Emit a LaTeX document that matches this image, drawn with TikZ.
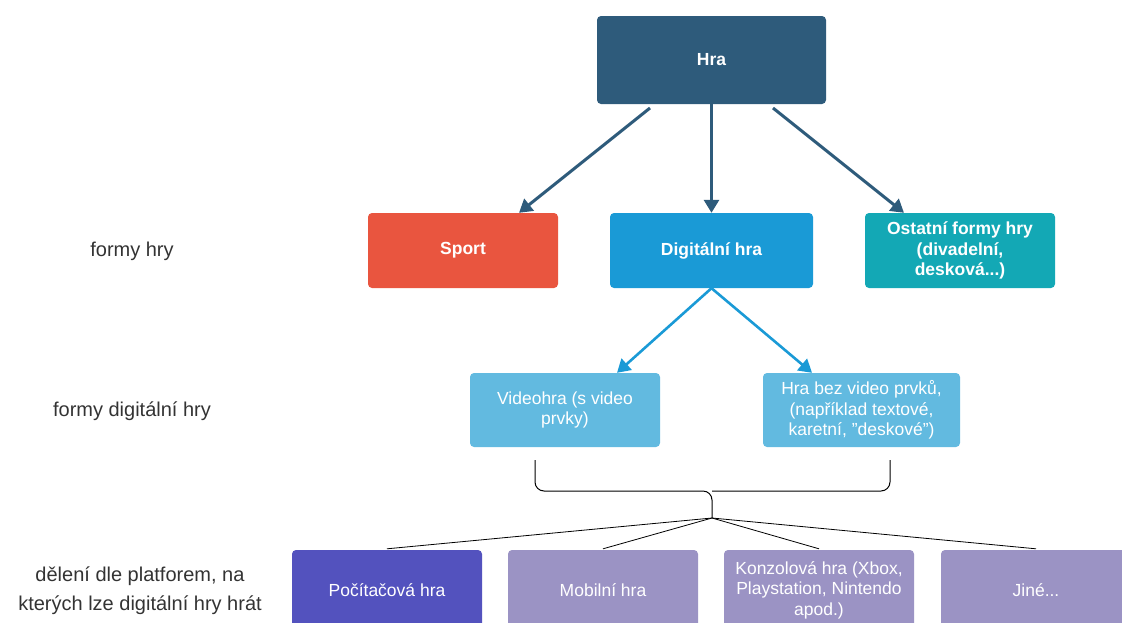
\documentclass[tikz,border=0pt]{standalone}
\usepackage{fontspec}
\setmainfont{Liberation Sans}
\usepackage{tikz}
\usetikzlibrary{arrows.meta,positioning,calc}
\definecolor{hraC}{HTML}{2E5B7B}
\definecolor{sportC}{HTML}{E9553F}
\definecolor{digiC}{HTML}{1A9AD6}
\definecolor{ostC}{HTML}{13A8B5}
\definecolor{videoC}{HTML}{62BAE0}
\definecolor{pcC}{HTML}{5352BE}
\definecolor{platC}{HTML}{9B93C4}
\tikzset{
  box/.style={rounded corners=4pt,text=white,align=center,inner sep=2pt,
    font=\fontsize{17.5}{20.5}\selectfont},
  top/.style={box,font=\fontsize{17.5}{20.5}\selectfont\bfseries},
  lab/.style={font=\fontsize{20}{29}\selectfont,text=black!80,align=center},
  arr/.style={line width=3pt,-{Triangle[length=13pt,width=15pt]}},
}
\begin{document}
\begin{tikzpicture}[x=1pt,y=-1pt]
  \useasboundingbox (0,0) rectangle (1122,622);
  \clip (0,0) rectangle (1122,622);
  % first two levels
  \node[top,fill=hraC,minimum width=229pt,minimum height=88pt] (hra) at (711.5,60){Hra};
  \node[top,fill=sportC,minimum width=190pt,minimum height=75pt] (sport) at (463,250.5){Sport};
  \node[top,fill=digiC,minimum width=203pt,minimum height=75pt] (digi) at (711.5,250.5){Digitální hra};
  \node[top,fill=ostC,minimum width=190pt,minimum height=75pt] (ost) at (960,250.5){Ostatní formy hry\\(divadelní,\\desková...)};
  \draw[arr,hraC] (650,108) -- (sport.north -| 519,0);
  \draw[arr,hraC] (hra.south) -- (digi.north);
  \draw[arr,hraC] (773,108) -- (ost.north -| 904,0);
  % digitalni hra
  \node[box,fill=videoC,minimum width=190pt,minimum height=74pt] (video) at (565,410){Videohra (s video\\prvky)};
  \node[box,fill=videoC,minimum width=197pt,minimum height=74pt] (bez) at (861.5,410){Hra bez video prvků,\\(například textové,\\karetní, "deskové")};
  \draw[arr,digiC,line width=2.6pt] (digi.south) -- (video.north -| 617,0);
  \draw[arr,digiC,line width=2.6pt] (digi.south) -- (bez.north -| 812,0);
  % platformy
  \node[box,fill=pcC,minimum width=190pt,minimum height=80pt] (pc) at (387,590){Počítačová hra};
  \node[box,fill=platC,minimum width=190pt,minimum height=80pt] (mob) at (603,590){Mobilní hra};
  \node[box,fill=platC,minimum width=190pt,minimum height=80pt] (kon) at (819,590){Konzolová hra (Xbox,\\Playstation, Nintendo\\apod.)};
  \node[box,fill=platC,minimum width=190pt,minimum height=80pt] (jine) at (1036,590){Jiné...};
  \coordinate (tip) at (712,518);
  \draw[line width=1pt,rounded corners=9pt] (535,460) -- (535,491) -- (712,491) -- (712,518);
  \draw[line width=1pt,rounded corners=9pt] (890,460) -- (890,491) -- (712,491);
  \draw[line width=0.8pt] (tip) -- ($(pc.north)+(0,-1)$);
  \draw[line width=0.8pt] (tip) -- ($(mob.north)+(0,-1)$);
  \draw[line width=0.8pt] (tip) -- ($(kon.north)+(0,-1)$);
  \draw[line width=0.8pt] (tip) -- ($(jine.north)+(0,-1)$);
  % popisky
  \node[lab] (l1) at (132,251){formy hry};
  \node[lab] (l2) at (132,411){formy digitální hry};
  \node[lab] (l3) at (140,591){dělení dle platforem, na\\kterých lze digitální hry hrát};
\end{tikzpicture}
\end{document}
